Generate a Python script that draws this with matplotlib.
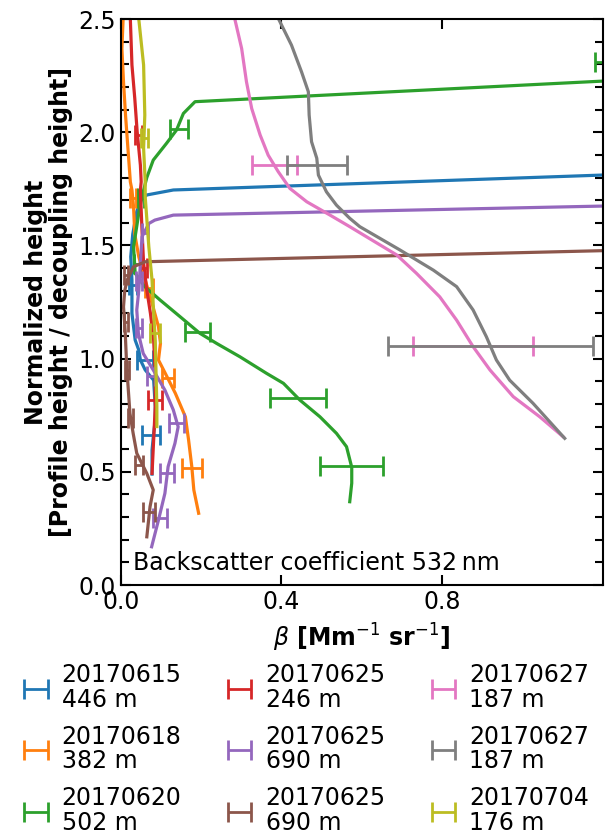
import matplotlib
matplotlib.use("Agg")
import matplotlib.pyplot as plt
import numpy as np

# ---------------- data ----------------
labels = ["20170615\n446 m", "20170618\n382 m", "20170620\n502 m",
          "20170625\n246 m", "20170625\n690 m", "20170625\n690 m",
          "20170627\n187 m", "20170627\n187 m", "20170704\n176 m"]
colors = ["C0", "C1", "C2", "C3", "C4", "C5", "C6", "C7", "C8"]

# profiles (beta, normalized height)
x0 = [0.078, 0.078, 0.082, 0.086, 0.086, 0.082, 0.061, 0.049, 0.045, 0.036, 0.028, 0.028, 0.025, 0.030, 0.040, 0.050, 0.065, 0.131, 1.20, 1.30]
y0 = [0.49, 0.596, 0.670, 0.729, 0.788, 0.905, 0.950, 0.994, 1.038, 1.082, 1.20, 1.347, 1.45, 1.55, 1.65, 1.70, 1.723, 1.745, 1.811, 1.817]

x1 = [0.194, 0.182, 0.177, 0.169, 0.161, 0.136, 0.111, 0.094, 0.099, 0.094, 0.078, 0.061, 0.045, 0.035, 0.032, 0.028, 0.024, 0.018, 0.012, 0.007, 0.003, 0.006]
y1 = [0.317, 0.42, 0.522, 0.640, 0.743, 0.847, 0.935, 0.994, 1.068, 1.141, 1.245, 1.347, 1.45, 1.55, 1.671, 1.745, 1.781, 1.929, 2.076, 2.223, 2.37, 2.50]

x2 = [0.570, 0.575, 0.575, 0.562, 0.537, 0.496, 0.446, 0.405, 0.363, 0.297, 0.239, 0.197, 0.148, 0.098, 0.060, 0.036, 0.032, 0.045, 0.055, 0.065, 0.081, 0.114, 0.139, 0.156, 0.185, 1.20, 1.30]
y2 = [0.368, 0.45, 0.52, 0.611, 0.670, 0.743, 0.817, 0.891, 0.935, 1.008, 1.067, 1.112, 1.185, 1.259, 1.318, 1.377, 1.494, 1.642, 1.73, 1.80, 1.877, 1.951, 2.01, 2.083, 2.135, 2.226, 2.232]

x3 = [0.078, 0.082, 0.086, 0.086, 0.082, 0.074, 0.065, 0.057, 0.053, 0.049, 0.051, 0.049, 0.041, 0.035, 0.028, 0.024]
y3 = [0.493, 0.64, 0.788, 0.935, 1.082, 1.20, 1.303, 1.421, 1.568, 1.745, 1.781, 1.855, 2.002, 2.15, 2.297, 2.50]

x4 = [0.077, 0.094, 0.110, 0.118, 0.135, 0.143, 0.131, 0.110, 0.081, 0.056, 0.044, 0.040, 0.045, 0.049, 0.053, 0.070, 0.085, 0.131, 1.20, 1.30]
y4 = [0.169, 0.287, 0.405, 0.523, 0.626, 0.699, 0.773, 0.861, 0.950, 1.023, 1.112, 1.215, 1.30, 1.42, 1.538, 1.597, 1.612, 1.634, 1.674, 1.677]

x5 = [0.065, 0.073, 0.081, 0.065, 0.040, 0.031, 0.023, 0.019, 0.015, 0.011, 0.007, 0.010, 0.016, 0.032, 0.061, 1.20, 1.30]
y5 = [0.213, 0.346, 0.42, 0.493, 0.582, 0.67, 0.758, 0.861, 0.964, 1.126, 1.229, 1.30, 1.347, 1.406, 1.428, 1.477, 1.479]

x6 = [1.101, 1.043, 0.977, 0.919, 0.877, 0.836, 0.794, 0.736, 0.687, 0.612, 0.570, 0.521, 0.463, 0.421, 0.392, 0.367, 0.347, 0.326, 0.313, 0.301, 0.284]
y6 = [0.655, 0.743, 0.832, 0.950, 1.053, 1.170, 1.273, 1.377, 1.458, 1.538, 1.583, 1.634, 1.693, 1.752, 1.826, 1.899, 1.988, 2.105, 2.223, 2.37, 2.50]

x7 = [1.105, 1.026, 0.968, 0.935, 0.910, 0.877, 0.836, 0.778, 0.695, 0.595, 0.570, 0.537, 0.512, 0.492, 0.488, 0.475, 0.469, 0.467, 0.450, 0.425, 0.393]
y7 = [0.648, 0.803, 0.905, 0.994, 1.097, 1.215, 1.318, 1.391, 1.480, 1.583, 1.620, 1.678, 1.737, 1.811, 1.885, 1.958, 2.076, 2.179, 2.267, 2.385, 2.50]

x8 = [0.090, 0.090, 0.086, 0.082, 0.078, 0.070, 0.061, 0.061, 0.057, 0.060, 0.057, 0.045]
y8 = [0.70, 0.788, 1.082, 1.20, 1.347, 1.494, 1.715, 1.781, 1.929, 2.076, 2.297, 2.50]

# error bars: centre beta, height, half-width
eb_x0 = [0.076, 0.060, 0.030]; eb_y0 = [0.663, 0.994, 1.325]; eb_e0 = [0.022, 0.020, 0.010]
eb_x1 = [0.177, 0.117, 0.070, 0.030]; eb_y1 = [0.515, 0.913, 1.31, 1.71]; eb_e1 = [0.025, 0.015, 0.010, 0.008]
eb_x2 = [0.574, 0.441, 0.191, 0.040, 0.050, 0.145, 1.240]; eb_y2 = [0.526, 0.825, 1.119, 1.42, 1.71, 2.013, 2.309]; eb_e2 = [0.078, 0.070, 0.031, 0.008, 0.008, 0.022, 0.060]
eb_x3 = [0.086, 0.057, 0.044]; eb_y3 = [0.817, 1.40, 1.99]; eb_e3 = [0.017, 0.008, 0.008]
eb_x4 = [0.097, 0.115, 0.138, 0.075, 0.045, 0.045, 0.060]; eb_y4 = [0.294, 0.495, 0.714, 0.924, 1.134, 1.344, 1.554]; eb_e4 = [0.017, 0.017, 0.019, 0.010, 0.008, 0.008, 0.008]
eb_x5 = [0.071, 0.045, 0.025, 0.015, 0.012, 0.012]; eb_y5 = [0.324, 0.53, 0.74, 0.95, 1.16, 1.37]; eb_e5 = [0.015, 0.010, 0.006, 0.005, 0.005, 0.005]
eb_x6 = [0.877, 0.382]; eb_y6 = [1.056, 1.855]; eb_e6 = [0.149, 0.056]
eb_x7 = [0.921, 0.488]; eb_y7 = [1.056, 1.855]; eb_e7 = [0.255, 0.075]
eb_x8 = [0.085, 0.060]; eb_y8 = [1.113, 1.975]; eb_e8 = [0.012, 0.009]

profiles = [(x0, y0), (x1, y1), (x2, y2), (x3, y3), (x4, y4), (x5, y5), (x6, y6), (x7, y7), (x8, y8)]
errbars = [(eb_x0, eb_y0, eb_e0), (eb_x1, eb_y1, eb_e1), (eb_x2, eb_y2, eb_e2),
           (eb_x3, eb_y3, eb_e3), (eb_x4, eb_y4, eb_e4), (eb_x5, eb_y5, eb_e5),
           (eb_x6, eb_y6, eb_e6), (eb_x7, eb_y7, eb_e7), (eb_x8, eb_y8, eb_e8)]

x_ticks = [0.0, 0.4, 0.8]
y_ticks = [0.0, 0.5, 1.0, 1.5, 2.0, 2.5]

# ---------------- plot ----------------
plt.rcParams['font.family'] = ['DejaVu Sans']
FS = 17

fig = plt.figure(figsize=(6.05, 8.36), dpi=100)
ax = fig.add_axes([0.1995, 0.3002, 0.797, 0.677])

handles = []
for (px, py), (ex, ey, ee), c, lab in zip(profiles, errbars, colors, labels):
    ax.plot(px, py, color=c, lw=2.3, solid_joinstyle='round')
    h = ax.errorbar(ex, ey, xerr=ee, fmt='none', ecolor=c, elinewidth=2,
                    capsize=7, capthick=2, label=lab)
    handles.append(h)

ax.set_xlim(0, 1.2)
ax.set_ylim(0, 2.5)
ax.set_xticks(x_ticks)
ax.set_xticklabels([f"{v:.1f}" for v in x_ticks])
ax.set_yticks(y_ticks)
ax.set_yticklabels([f"{v:.1f}" for v in y_ticks])
ax.set_yticks(np.arange(0, 2.51, 0.1), minor=True)
ax.tick_params(axis='both', which='major', direction='in', length=7, width=1.5,
               labelsize=FS, top=True, right=True)
ax.tick_params(axis='both', which='minor', direction='in', length=5.5, width=1.5,
               top=False, right=True)
ax.tick_params(axis='x', which='minor', bottom=False, top=False)
for s in ax.spines.values():
    s.set_linewidth(1.5)

ax.set_xlabel(r'$\beta$ [Mm$^{-1}$ sr$^{-1}$]', fontsize=FS, fontweight='bold',
              labelpad=6)
ax.set_ylabel('Normalized height\n[Profile height / decoupling height]',
              fontsize=FS, fontweight='bold', linespacing=1.05)

ax.text(0.025, 0.018, 'Backscatter coefficient 532\u2009nm', transform=ax.transAxes,
        fontsize=FS, ha='left', va='bottom')

leg = fig.legend(handles=handles, labels=labels, ncol=3, loc='upper left',
                 bbox_to_anchor=(0.02, 0.218), frameon=False, fontsize=FS,
                 handlelength=1.2, handletextpad=0.5, columnspacing=1.85,
                 labelspacing=0.55, borderaxespad=0)
for t in leg.get_texts():
    t.set_linespacing(1.03)

fig.savefig('out.png', dpi=100)
